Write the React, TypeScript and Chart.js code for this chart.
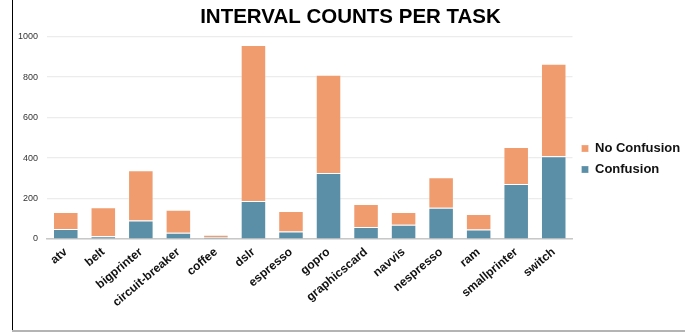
import React, { useEffect, useRef } from 'react';
import { Chart, registerables } from 'chart.js';

Chart.register(...registerables);

const tasks = ['atv', 'belt', 'bigprinter', 'circuit-breaker', 'coffee', 'dslr', 'espresso', 'gopro', 'graphicscard', 'navvis', 'nespresso', 'ram', 'smallprinter', 'switch'];
const confusion = [50, 13, 91, 31, 10, 188, 37, 326, 59, 70, 154, 47, 272, 409];
const noConfusion = [83, 144, 249, 113, 11, 770, 101, 485, 114, 63, 151, 77, 183, 457];
const yMin = 0;
const yMax = 1000;
const yStep = 200;
const titleText = 'INTERVAL COUNTS PER TASK';

const FONT = "'Liberation Sans', Arial, Helvetica, sans-serif";

export default function App() {
  const ref = useRef<HTMLCanvasElement | null>(null);

  useEffect(() => {
    if (!ref.current) return;
    const chart = new Chart(ref.current, {
      type: 'bar',
      data: {
        labels: tasks,
        datasets: [
          {
            label: 'Confusion',
            data: confusion,
            backgroundColor: '#5b8fa8',
            borderColor: 'rgba(255,255,255,0.25)',
            borderWidth: 1,
          },
          {
            label: 'No Confusion',
            data: noConfusion,
            backgroundColor: '#f09c6e',
            borderColor: 'rgba(255,255,255,0.25)',
            borderWidth: 1,
          },
        ],
      },
      options: {
        responsive: false,
        animation: false,
        layout: { padding: { left: 16, right: 8, top: 0, bottom: 15 } },
        datasets: { bar: { categoryPercentage: 0.68, barPercentage: 1 } },
        plugins: {
          title: {
            display: true,
            text: titleText,
            color: '#000',
            font: { family: FONT, size: 20.5, weight: 'bold' },
            padding: { top: 5, bottom: 7 },
          },
          legend: {
            position: 'right',
            align: 'center',
            reverse: true,
            labels: {
              boxWidth: 7,
              boxHeight: 7,
              padding: 8,
              color: '#111',
              font: { family: FONT, size: 13, weight: 'bold' },
            },
          },
          tooltip: { enabled: false },
        },
        scales: {
          x: {
            stacked: true,
            grid: { display: false, drawTicks: false },
            border: { display: true, color: '#c8c8c8', width: 1.5 },
            ticks: {
              autoSkip: false,
              minRotation: 40,
              maxRotation: 40,
              padding: 6,
              color: '#111',
              font: { family: FONT, size: 12, weight: 'bold' },
            },
            afterFit: (s: any) => { s.height = 79; },
          },
          y: {
            stacked: true,
            min: yMin,
            max: yMax,
            grid: { color: '#ececec', lineWidth: 1.2, drawTicks: false },
            border: { display: false },
            ticks: {
              stepSize: yStep,
              padding: 9,
              color: '#333',
              font: { family: FONT, size: 9 },
              callback: (v: any) => String(v),
            },
            afterFit: (s: any) => { s.width = 31; },
          },
          gap: {
            type: 'linear',
            position: 'right',
            display: true,
            grid: { display: false, drawTicks: false },
            border: { display: false },
            ticks: { display: false },
            afterFit: (s: any) => { s.width = 1; },
          },
        },
      },
    });
    return () => chart.destroy();
  }, []);

  return (
    <div style={{ position: 'fixed', left: 0, top: 0, width: 693, height: 333, overflow: 'hidden', background: '#fff' }}>
      <canvas ref={ref} width={693} height={333} style={{ position: 'absolute', left: 0, top: 0, width: 693, height: 333 }} />
      <div style={{ position: 'absolute', left: 12, top: 0, width: 1, height: 331, background: '#000' }} />
      <div style={{ position: 'absolute', left: 12, top: 330, width: 673, height: 1.5, background: '#b4b4b4' }} />
    </div>
  );
}
